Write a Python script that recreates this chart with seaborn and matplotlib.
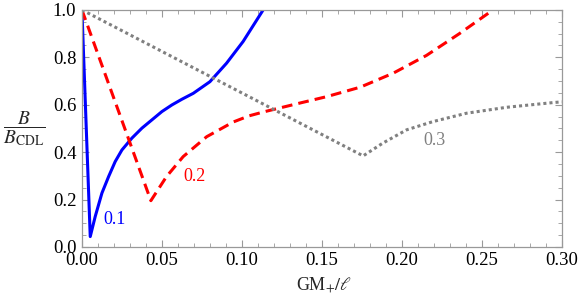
import numpy as np
import pandas as pd
import matplotlib
matplotlib.use("Agg")
import matplotlib.pyplot as plt
from matplotlib.ticker import MultipleLocator, FormatStrFormatter
import seaborn as sns

# ---------- data ----------
x_01 = [0.0, 0.0052, 0.0083, 0.0125, 0.0167, 0.0208, 0.025, 0.03125, 0.0375,
        0.04375, 0.05, 0.05625, 0.0625, 0.0696, 0.080, 0.0904, 0.1008, 0.1133]
y_01 = [1.0, 0.0435, 0.128, 0.227, 0.297, 0.36, 0.409, 0.459, 0.501,
        0.536, 0.571, 0.599, 0.623, 0.648, 0.697, 0.775, 0.867, 1.0]

x_02 = [0.0, 0.0431, 0.0529, 0.0633, 0.078, 0.0946, 0.1045, 0.1144, 0.1363,
        0.153, 0.174, 0.1946, 0.2154, 0.236, 0.257]
y_02 = [1.0, 0.195, 0.297, 0.381, 0.465, 0.527, 0.553, 0.571, 0.607,
        0.634, 0.674, 0.733, 0.808, 0.900, 1.0]

x_03 = [0.0, 0.1758, 0.188, 0.203, 0.2196, 0.2404, 0.2654, 0.2946, 0.30]
y_03 = [1.0, 0.384, 0.4375, 0.494, 0.529, 0.564, 0.589, 0.609, 0.612]

labels = ["0.1", "0.2", "0.3"]
label_xy = [(0.0202, 0.114), (0.0706, 0.297), (0.2202, 0.451)]

# ---------- style ----------
sns.set_style("ticks")
plt.rcParams.update({
    "font.family": ["Liberation Serif", "DejaVu Serif"],
    "mathtext.fontset": "stix",
    "font.size": 12,
})

colors = ["#0000ff", "#ff0000", "#808080"]
styles = ["-", (0, (3.5, 2.0)), (0, (1.0, 1.0))]

fig = plt.figure(figsize=(5.81, 3.0), dpi=100)
ax = fig.add_axes([0.141, 0.177, 0.826, 0.790])

for (xs, ys), c, ls in zip([(x_01, y_01), (x_02, y_02), (x_03, y_03)], colors, styles):
    df = pd.DataFrame({"x": xs, "y": ys})
    sns.lineplot(data=df, x="x", y="y", sort=False, estimator=None,
                 color=c, linestyle=ls, linewidth=2.2, ax=ax)

for lab, (lx, ly), c in zip(labels, label_xy, colors):
    ax.text(lx, ly, lab, color=c, fontsize=13, ha="center", va="center")

ax.set_xlim(0, 0.30)
ax.set_ylim(0, 1.0)
ax.xaxis.set_major_locator(MultipleLocator(0.05))
ax.xaxis.set_minor_locator(MultipleLocator(0.01))
ax.yaxis.set_major_locator(MultipleLocator(0.2))
ax.yaxis.set_minor_locator(MultipleLocator(0.05))
ax.xaxis.set_major_formatter(FormatStrFormatter("%.2f"))
ax.yaxis.set_major_formatter(FormatStrFormatter("%.1f"))

ax.tick_params(which="both", direction="in", top=True, right=True,
               color="#999999", labelsize=13.5, labelcolor="black")
ax.tick_params(which="major", length=5, width=0.8)
ax.tick_params(which="minor", length=3, width=0.6)
ax.tick_params(axis="x", which="major", pad=4)
ax.tick_params(axis="y", which="major", pad=4)
for s in ax.spines.values():
    s.set_color("#999999")
    s.set_linewidth(0.9)

ax.set_xlabel(r"GM$_{+}/\ell$", fontsize=13, va="center")
ax.xaxis.set_label_coords(0.504, -0.16)
ax.set_ylabel(r"$\dfrac{B}{B_{\rm CDL}}$", fontsize=14, rotation=0,
              va="center", ha="center")
ax.yaxis.set_label_coords(-0.121, 0.50)

fig.savefig("out.png", dpi=100)
